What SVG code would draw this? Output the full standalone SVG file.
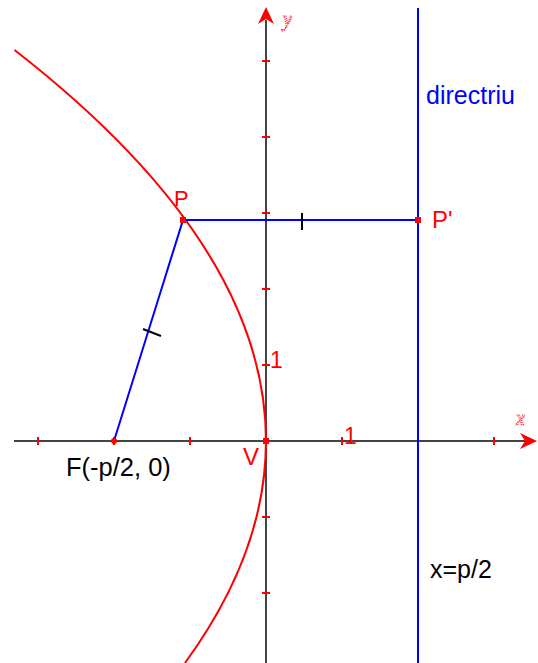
<svg xmlns="http://www.w3.org/2000/svg" width="538" height="663" viewBox="0 0 538 663">
<style>
.axis{stroke:#444;stroke-width:2;fill:none}
.tick{stroke:#f00;stroke-width:2}
.blue{stroke:#00f;stroke-width:2;fill:none}
.mark{stroke:#000;stroke-width:2}
.lbl{font-family:"Liberation Sans",Arial,sans-serif}
.red{fill:#f00}
.axlbl{font-family:"Liberation Serif",serif;font-style:italic;fill:none;stroke:#f00;stroke-width:1.1;stroke-dasharray:1 1.2}
</style>
<rect width="538" height="663" fill="#fff"/>
<g id="axes">
  <line class="axis" x1="14" y1="441" x2="526" y2="441"/>
  <path d="M537,441 L520,433 L525,441 L520,449 Z" fill="#f00"/>
  <line class="axis" x1="266" y1="663" x2="266" y2="20"/>
  <path d="M266,7 L258,24 L266,19 L274,24 Z" fill="#f00"/>
  <g id="ticks">
    <line class="tick" x1="38" y1="437" x2="38" y2="445"/>
    <line class="tick" x1="114" y1="437" x2="114" y2="445"/>
    <line class="tick" x1="190" y1="437" x2="190" y2="445"/>
    <line class="tick" x1="342" y1="437" x2="342" y2="445"/>
    <line class="tick" x1="494" y1="437" x2="494" y2="445"/>
    <line class="tick" x1="262" y1="61" x2="270" y2="61"/>
    <line class="tick" x1="262" y1="137" x2="270" y2="137"/>
    <line class="tick" x1="262" y1="213" x2="270" y2="213"/>
    <line class="tick" x1="262" y1="289" x2="270" y2="289"/>
    <line class="tick" x1="262" y1="365" x2="270" y2="365"/>
    <line class="tick" x1="262" y1="517" x2="270" y2="517"/>
    <line class="tick" x1="262" y1="593" x2="270" y2="593"/>
  </g>
  <text class="axlbl" x="516" y="425" font-size="20">x</text>
  <text class="axlbl" x="283" y="26" font-size="20">y</text>
  <text class="lbl red" x="270" y="368" font-size="23">1</text>
  <text class="lbl red" x="344" y="444" font-size="23">1</text>
</g>
<g id="directrix">
  <line class="blue" x1="418" y1="8" x2="418" y2="663"/>
  <text class="lbl" x="426" y="104" font-size="25" fill="#00f">directriu</text>
  <text class="lbl" x="430" y="578" font-size="25" fill="#000">x=p/2</text>
</g>
<g id="parabola">
  <path d="M14.5,50 Q408.8,356.5 184.9,663" fill="none" stroke="#f00" stroke-width="2"/>
</g>
<g id="connectors">
  <line class="blue" x1="183" y1="220" x2="418" y2="220"/>
  <line class="blue" x1="183" y1="220" x2="114" y2="441"/>
  <line class="mark" x1="302" y1="213" x2="302" y2="230"/>
  <line class="mark" x1="143" y1="329" x2="161" y2="336"/>
</g>
<g id="P">
  <rect x="180" y="217" width="6" height="6" fill="#f00"/>
  <text class="lbl red" x="174" y="206" font-size="22">P</text>
</g>
<g id="Pprime">
  <rect x="415" y="217" width="6" height="6" fill="#f00"/>
  <text class="lbl red" x="432" y="228" font-size="24">P'</text>
</g>
<g id="F">
  <circle cx="114" cy="441" r="3" fill="#f00"/>
  <text class="lbl" x="66" y="476" font-size="25.5" fill="#000">F(-p/2, 0)</text>
</g>
<g id="V">
  <rect x="263" y="438" width="6" height="6" fill="#f00"/>
  <text class="lbl red" x="243" y="465" font-size="24">V</text>
</g>
</svg>
